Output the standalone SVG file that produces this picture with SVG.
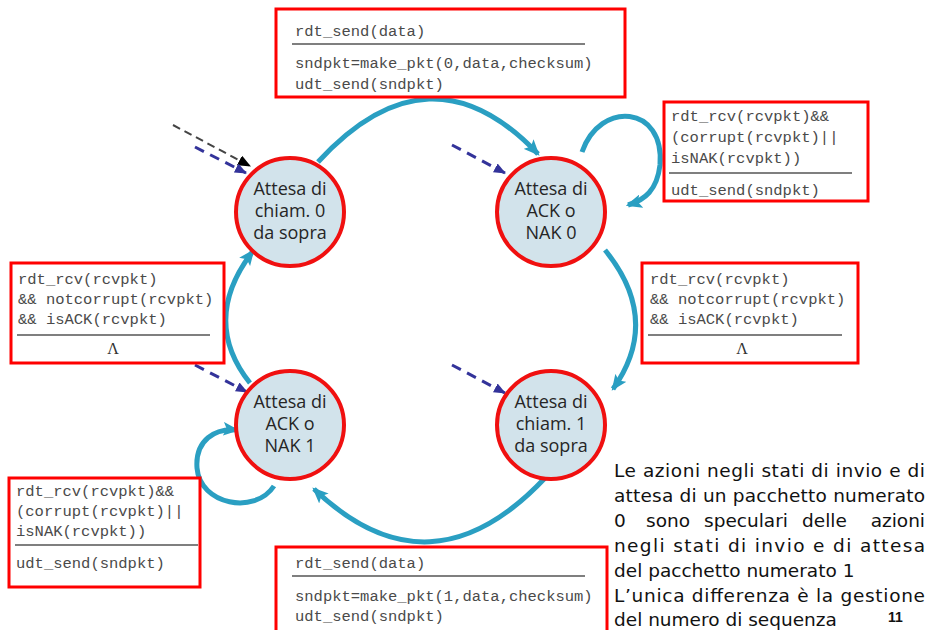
<svg xmlns="http://www.w3.org/2000/svg" width="930" height="630" viewBox="0 0 930 630">
  <style>
    .state circle { fill: #d2e3eb; stroke: #f01010; stroke-width: 4; }
    .state text { font-family: "Open Sans", "Noto Sans", sans-serif; font-size: 18px; fill: #262626; text-anchor: middle; }
    .box rect { fill: #ffffff; stroke: #ff0000; stroke-width: 3; }
    .box text { font-family: "Liberation Mono", "DejaVu Sans Mono", monospace; font-size: 15.5px; fill: #4a4a4a; }
    .box line { stroke: #555555; stroke-width: 1.5; }
    .box .lambda { font-family: "Liberation Serif", serif; font-size: 16px; text-anchor: middle; fill: #333; }
    .edge { fill: none; stroke: #2a9fc2; stroke-width: 5; marker-end: url(#tealHead); }
    .init { fill: none; stroke: #33339a; stroke-width: 3; stroke-dasharray: 10 7; marker-end: url(#blueHead); }
    .init-black { fill: none; stroke: #444444; stroke-width: 2; stroke-dasharray: 8 5; marker-end: url(#blackHead); }
    .note { font-family: "DejaVu Sans", "Noto Sans", sans-serif; font-size: 18.5px; fill: #111111; }
  </style>
  <defs>
    <marker id="tealHead" viewBox="0 0 14 12" refX="12" refY="6" markerWidth="16" markerHeight="14" markerUnits="userSpaceOnUse" orient="auto">
      <path d="M0,0 L14,6 L0,12 L3,6 Z" fill="#2a9fc2"/>
    </marker>
    <marker id="blueHead" viewBox="0 0 12 10" refX="11" refY="5" markerWidth="12" markerHeight="10" markerUnits="userSpaceOnUse" orient="auto">
      <path d="M0,0 L12,5 L0,10 Z" fill="#33339a"/>
    </marker>
    <marker id="blackHead" viewBox="0 0 12 10" refX="11" refY="5" markerWidth="13" markerHeight="11" markerUnits="userSpaceOnUse" orient="auto">
      <path d="M0,0 L12,5 L0,10 Z" fill="#000000"/>
    </marker>
  </defs>

  <rect width="930" height="630" fill="#ffffff"/>

  <!-- transitions -->
  <g id="connectors">
    <path class="edge" d="M318,162 Q430,40 538,154"/>
    <path class="edge" d="M582,152 C600,100 665,105 660,165 C657,190 645,200 628,205"/>
    <path class="edge" d="M605,250 Q662,320 613,389"/>
    <path class="edge" d="M545,478 Q430,600 314,489"/>
    <path class="edge" d="M274,486 C255,515 200,505 197,468 C195,440 215,428 237,430"/>
    <path class="edge" d="M250,383 Q200,320 253,251"/>
    <path class="init-black" d="M173,125 L250,166"/>
    <path class="init" d="M195,147 L246,173"/>
    <path class="init" d="M452,145 L505,173"/>
    <path class="init" d="M195,365 L247,392"/>
    <path class="init" d="M452,365 L505,393"/>
  </g>

  <!-- states -->
  <g id="wait-call-0" class="state">
    <circle cx="290" cy="212" r="54"/>
    <text x="290" y="195">Attesa di</text>
    <text x="290" y="217">chiam. 0</text>
    <text x="290" y="239">da sopra</text>
  </g>
  <g id="wait-ack-0" class="state">
    <circle cx="551" cy="212" r="54"/>
    <text x="551" y="195">Attesa di</text>
    <text x="551" y="217">ACK o</text>
    <text x="551" y="239">NAK 0</text>
  </g>
  <g id="wait-ack-1" class="state">
    <circle cx="290" cy="425" r="54"/>
    <text x="290" y="408">Attesa di</text>
    <text x="290" y="430">ACK o</text>
    <text x="290" y="452">NAK 1</text>
  </g>
  <g id="wait-call-1" class="state">
    <circle cx="551" cy="425" r="54"/>
    <text x="551" y="408">Attesa di</text>
    <text x="551" y="430">chiam. 1</text>
    <text x="551" y="452">da sopra</text>
  </g>

  <!-- transition labels -->
  <g id="label-send-0" class="box">
    <rect x="276" y="9" width="349" height="88"/>
    <text x="295" y="36">rdt_send(data)</text>
    <line x1="292" y1="44" x2="585" y2="44"/>
    <text x="295" y="68">sndpkt=make_pkt(0,data,checksum)</text>
    <text x="295" y="89">udt_send(sndpkt)</text>
  </g>
  <g id="label-resend-0" class="box">
    <rect x="664" y="102" width="204" height="99"/>
    <text x="671" y="121">rdt_rcv(rcvpkt)&amp;&amp;</text>
    <text x="671" y="142">(corrupt(rcvpkt)||</text>
    <text x="671" y="163">isNAK(rcvpkt))</text>
    <line x1="669" y1="173" x2="852" y2="173"/>
    <text x="671" y="195">udt_send(sndpkt)</text>
  </g>
  <g id="label-ack-1" class="box">
    <rect x="11" y="263" width="213" height="100"/>
    <text x="18" y="284">rdt_rcv(rcvpkt)</text>
    <text x="18" y="304">&amp;&amp; notcorrupt(rcvpkt)</text>
    <text x="18" y="324">&amp;&amp; isACK(rcvpkt)</text>
    <line x1="17" y1="335" x2="210" y2="335"/>
    <text class="lambda" x="113" y="354">Λ</text>
  </g>
  <g id="label-ack-0" class="box">
    <rect x="642" y="263" width="216" height="100"/>
    <text x="650" y="284">rdt_rcv(rcvpkt)</text>
    <text x="650" y="304">&amp;&amp; notcorrupt(rcvpkt)</text>
    <text x="650" y="324">&amp;&amp; isACK(rcvpkt)</text>
    <line x1="648" y1="335" x2="842" y2="335"/>
    <text class="lambda" x="742" y="354">Λ</text>
  </g>
  <g id="label-resend-1" class="box">
    <rect x="9" y="478" width="191" height="109"/>
    <text x="16" y="496">rdt_rcv(rcvpkt)&amp;&amp;</text>
    <text x="16" y="516">(corrupt(rcvpkt)||</text>
    <text x="16" y="536">isNAK(rcvpkt))</text>
    <line x1="15" y1="545" x2="198" y2="545"/>
    <text x="16" y="568">udt_send(sndpkt)</text>
  </g>
  <g id="label-send-1" class="box">
    <rect x="276" y="547" width="331" height="100"/>
    <text x="295" y="568">rdt_send(data)</text>
    <line x1="292" y1="576" x2="585" y2="576"/>
    <text x="295" y="601">sndpkt=make_pkt(1,data,checksum)</text>
    <text x="295" y="621">udt_send(sndpkt)</text>
  </g>

  <!-- explanatory note (justified) -->
  <g id="note">
    <text class="note" x="614" y="477" textLength="311" lengthAdjust="spacing">Le azioni negli stati di invio e di</text>
    <text class="note" x="614" y="502" textLength="311" lengthAdjust="spacing">attesa di un pacchetto numerato</text>
    <text class="note" y="527"><tspan x="614">0</tspan><tspan x="646">sono</tspan><tspan x="704">speculari</tspan><tspan x="802">delle</tspan><tspan x="925" text-anchor="end">azioni</tspan></text>
    <text class="note" x="614" y="552" textLength="311" lengthAdjust="spacing">negli stati di invio e di attesa</text>
    <text class="note" x="614" y="577">del pacchetto numerato 1</text>
    <text class="note" x="614" y="602" textLength="311" lengthAdjust="spacing">L’unica differenza è la gestione</text>
    <text class="note" x="614" y="626">del numero di sequenza</text>
    <text x="888" y="622" font-family="Liberation Sans, Arial, sans-serif" font-size="14" font-weight="bold" fill="#111">11</text>
  </g>
</svg>
